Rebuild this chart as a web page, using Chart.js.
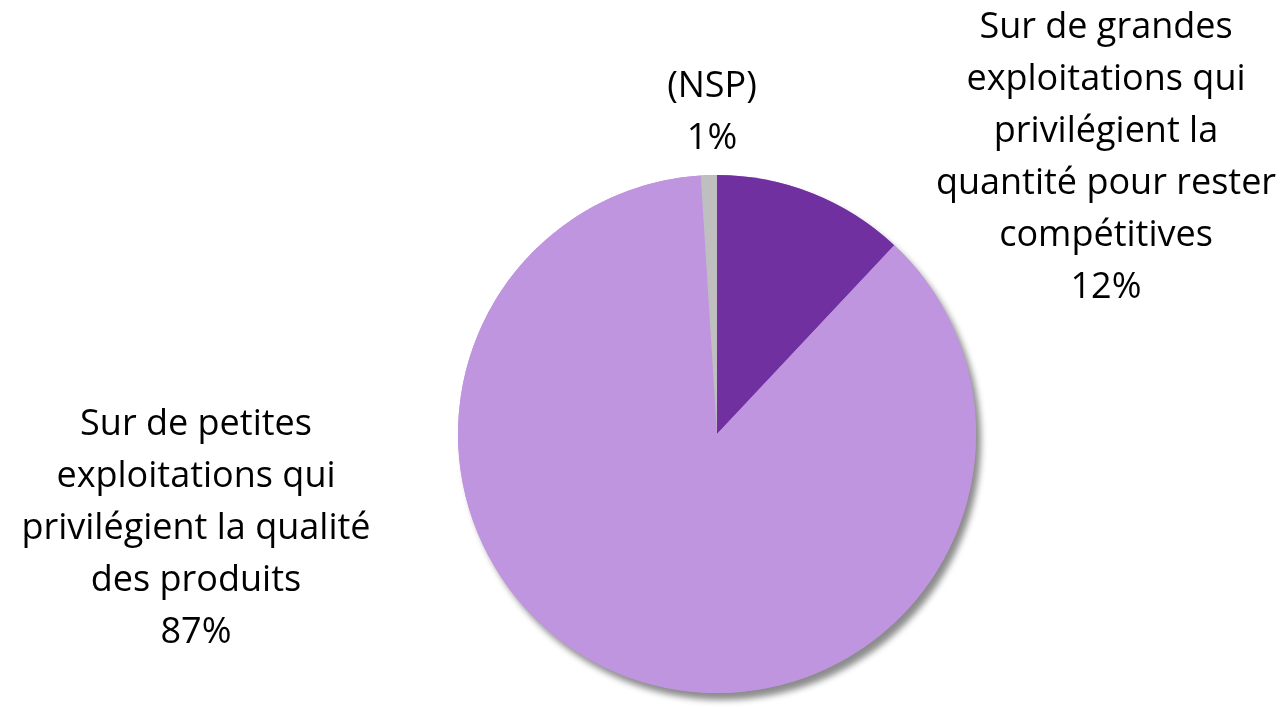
<!DOCTYPE html>
<html>
<head>
<meta charset="utf-8">
<script src="https://cdn.jsdelivr.net/npm/chart.js@4/dist/chart.umd.min.js"></script>
<style>
  html, body { margin: 0; padding: 0; background: #fff; }
  #wrap { width: 1284px; height: 707px; }
</style>
</head>
<body>
<div id="wrap"><canvas id="pie"></canvas></div>
<script>
// Categories (line-broken as in the picture) and their shares
const categories = [
  ['Sur de grandes', 'exploitations qui', 'privilégient la', 'quantité pour rester', 'compétitives'],
  ['Sur de petites', 'exploitations qui', 'privilégient la qualité', 'des produits'],
  ['(NSP)']
];
const shares = [12, 87, 1];
const sliceColors = ['#7030A0', '#BF95DF', '#BFBFBF'];

// Where each label block is centred (x) and where its first line sits (y)
const labelAnchors = [
  { x: 1106, y: 28 },
  { x: 196, y: 425 },
  { x: 712, y: 87 }
];
const lineStep = 52;

// Soft shadow under the whole pie, drawn before the slices
const pieShadow = {
  id: 'pieShadow',
  beforeDatasetsDraw(chart) {
    const arc = chart.getDatasetMeta(0).data[0];
    if (!arc) return;
    const ctx = chart.ctx;
    ctx.save();
    ctx.shadowColor = 'rgba(0,0,0,0.45)';
    ctx.shadowBlur = 6;
    ctx.shadowOffsetX = 5;
    ctx.shadowOffsetY = 7;
    ctx.fillStyle = '#BF95DF';
    ctx.beginPath();
    ctx.arc(arc.x, arc.y, arc.outerRadius, 0, Math.PI * 2);
    ctx.fill();
    ctx.restore();
  }
};

// Category name + percentage written outside the pie
const outsideLabels = {
  id: 'outsideLabels',
  afterDatasetsDraw(chart) {
    const ctx = chart.ctx;
    ctx.save();
    ctx.fillStyle = '#000';
    ctx.font = '36px "Open Sans", sans-serif';
    ctx.textAlign = 'center';
    ctx.textBaseline = 'middle';
    categories.forEach((lines, i) => {
      const a = labelAnchors[i];
      const all = lines.concat([shares[i] + '%']);
      all.forEach((t, k) => ctx.fillText(t, a.x, a.y + k * lineStep));
    });
    ctx.restore();
  }
};

new Chart(document.getElementById('pie'), {
  type: 'pie',
  data: {
    labels: categories,
    datasets: [{
      data: shares,
      backgroundColor: sliceColors,
      borderWidth: 0,
      hoverOffset: 0
    }]
  },
  options: {
    responsive: true,
    maintainAspectRatio: false,
    animation: false,
    layout: { padding: { left: 458, right: 308, top: 175, bottom: 14 } },
    plugins: {
      legend: { display: false },
      tooltip: { enabled: false }
    }
  },
  plugins: [pieShadow, outsideLabels]
});
</script>
</body>
</html>
